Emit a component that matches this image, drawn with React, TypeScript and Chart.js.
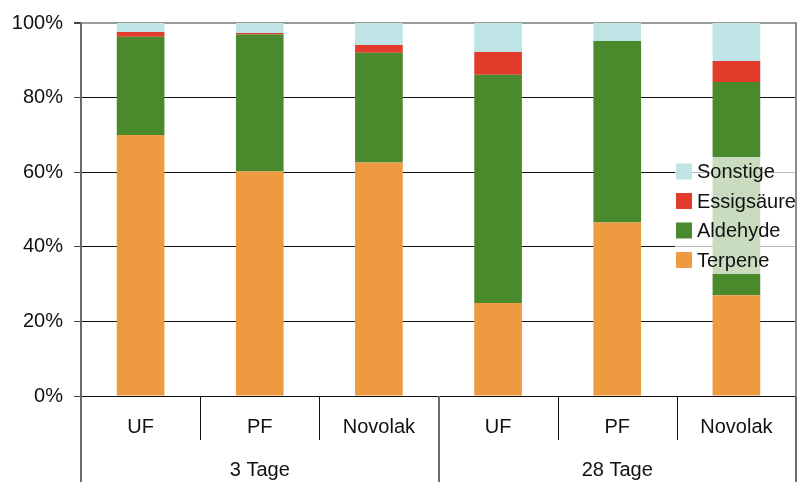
import React, { useEffect, useRef } from "react";
import { Chart, registerables } from "chart.js";

Chart.register(...registerables);

const categories = ["UF", "PF", "Novolak", "UF", "PF", "Novolak"];
const groups = ["3 Tage", "28 Tage"];
const terpene = [70.0, 60.2, 62.6, 24.9, 46.5, 27.0];
const aldehyde = [26.3, 36.7, 29.4, 61.2, 48.7, 57.2];
const essigsaeure = [1.3, 0.4, 2.1, 6.1, 0.0, 5.6];
const sonstige = [2.4, 2.7, 5.9, 7.8, 4.8, 10.2];
const yTicks = [0, 20, 40, 60, 80, 100];

const FONT = "'Liberation Sans', Arial, Helvetica, sans-serif";

const extrasPlugin = {
  id: "extras",
  afterDatasetsDraw(chart: any) {
    const { ctx, chartArea } = chart;
    const bx = chartArea.right - 121;
    const by = chartArea.top + 134;
    const bw = 121;
    const bh = 117;
    ctx.save();
    ctx.fillStyle = "rgba(255,255,255,0.7)";
    ctx.fillRect(bx, by, bw, bh);
    const items = [...chart.data.datasets].reverse();
    ctx.font = `20px ${FONT}`;
    ctx.textBaseline = "middle";
    ctx.textAlign = "left";
    items.forEach((ds: any, i: number) => {
      const cy = by + 14.5 + i * 29.5;
      ctx.fillStyle = ds.backgroundColor;
      ctx.fillRect(bx + 1, cy - 8, 16, 16);
      ctx.fillStyle = "#111";
      ctx.fillText(ds.label, bx + 22, cy + 1);
    });
    ctx.restore();
  },
  afterDraw(chart: any) {
    const { ctx, chartArea } = chart;
    const xs = chart.scales.x;
    const bottom = chart.height;
    const catBottom = xs.bottom;
    ctx.save();
    ctx.strokeStyle = "#8a8a8a";
    ctx.lineWidth = 2;
    ctx.beginPath();
    ctx.moveTo(chartArea.right, chartArea.top - 1);
    ctx.lineTo(chartArea.right, chartArea.bottom);
    ctx.stroke();
    const n = chart.data.labels.length;
    const half = n / 2;
    for (let i = 0; i < n - 1; i++) {
      const x = Math.round((xs.getPixelForValue(i) + xs.getPixelForValue(i + 1)) / 2);
      if (i + 1 === half) {
        ctx.strokeStyle = "#6a6a6a";
        ctx.lineWidth = 2;
        ctx.beginPath();
        ctx.moveTo(x, chartArea.bottom);
        ctx.lineTo(x, bottom);
        ctx.stroke();
      } else {
        ctx.strokeStyle = "#111";
        ctx.lineWidth = 1;
        ctx.beginPath();
        ctx.moveTo(x + 0.5, chartArea.bottom);
        ctx.lineTo(x + 0.5, catBottom);
        ctx.stroke();
      }
    }
    ctx.strokeStyle = "#6a6a6a";
    ctx.lineWidth = 2;
    ctx.beginPath();
    ctx.moveTo(chartArea.left, chartArea.bottom);
    ctx.lineTo(chartArea.left, bottom);
    ctx.moveTo(chartArea.right, chartArea.bottom);
    ctx.lineTo(chartArea.right, bottom);
    ctx.stroke();
    ctx.restore();
  },
};

export default function App() {
  const ref = useRef<HTMLCanvasElement>(null);
  useEffect(() => {
    if (!ref.current) return;
    const chart = new Chart(ref.current, {
      type: "bar",
      data: {
        labels: categories,
        datasets: [
          { label: "Terpene", data: terpene, backgroundColor: "#EE9A40" },
          { label: "Aldehyde", data: aldehyde, backgroundColor: "#4A8A2C" },
          { label: "Essigsäure", data: essigsaeure, backgroundColor: "#E23A2B" },
          { label: "Sonstige", data: sonstige, backgroundColor: "#BEE4E6" },
        ],
      },
      options: {
        animation: false,
        responsive: true,
        maintainAspectRatio: false,
        devicePixelRatio: 1,
        layout: { padding: { top: 22, right: 1, left: 0, bottom: 0 } },
        datasets: { bar: { categoryPercentage: 1, barPercentage: 0.4, borderWidth: 0 } },
        plugins: { legend: { display: false }, tooltip: { enabled: false } },
        scales: {
          x: {
            stacked: true,
            position: "bottom",
            grid: { display: false, drawTicks: false },
            border: { display: true, color: "#111", width: 1 },
            ticks: {
              font: { family: FONT, size: 20 },
              color: "#111",
              padding: 19,
              maxRotation: 0,
              autoSkip: false,
            },
            afterFit: (s: any) => {
              s.height = 44;
            },
          },
          x2: {
            type: "category",
            labels: groups,
            position: "bottom",
            offset: true,
            grid: { display: false, drawTicks: false },
            border: { display: false },
            ticks: {
              font: { family: FONT, size: 20 },
              color: "#111",
              padding: 18,
              maxRotation: 0,
            },
            afterFit: (s: any) => {
              s.height = 42;
            },
          },
          y: {
            stacked: true,
            min: 0,
            max: 100,
            afterBuildTicks: (s: any) => {
              s.ticks = yTicks.map((v) => ({ value: v }));
            },
            ticks: {
              font: { family: FONT, size: 20 },
              color: "#111",
              padding: 11,
              callback: (v: any) => `${v}%`,
            },
            grid: {
              color: (c: any) => (c.tick && c.tick.value === 100 ? "#9a9a9a" : "#111"),
              lineWidth: (c: any) => (c.tick && c.tick.value === 100 ? 2 : 1),
              tickLength: 7,
              tickColor: "#444",
            },
            border: { display: true, color: "#6a6a6a", width: 2 },
            afterFit: (s: any) => {
              s.width = 81;
            },
          },
        },
      },
      plugins: [extrasPlugin],
    });
    return () => chart.destroy();
  }, []);
  return (
    <div style={{ position: "fixed", left: 0, top: 0, width: 797, height: 482, background: "#fff" }}>
      <canvas ref={ref} />
    </div>
  );
}
